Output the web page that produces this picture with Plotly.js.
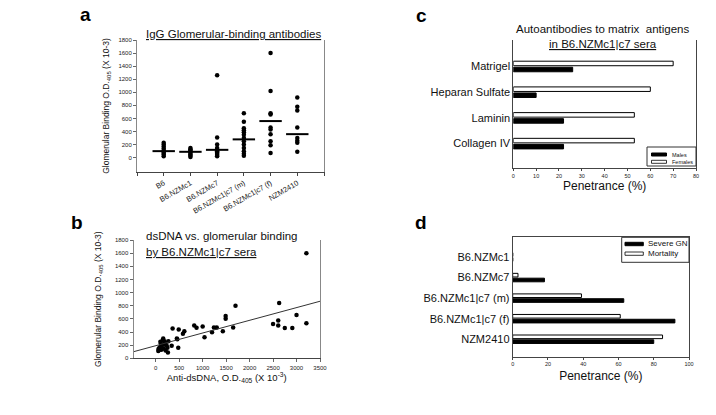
<!DOCTYPE html>
<html>
<head>
<meta charset="utf-8">
<script src="https://cdn.plot.ly/plotly-3.0.1.min.js"></script>
<style>html,body{margin:0;padding:0;background:#fff;}#chart{width:716px;height:415px;}</style>
</head>
<body>
<div id="chart"></div>
<script>
// ---------- Panel a: IgG glomerular-binding antibodies ----------
const strainCats = ['B6', 'B6.NZMc1', 'B6.NZMc7', 'B6.NZMc1|c7 (m)', 'B6.NZMc1|c7 (f)', 'NZM2410'];
const glomB6 = [230, 200, 170, 140, 110, 90, 70, 50, 20];
const glomNZMc1 = [150, 130, 110, 90, 70, 50, 30, 10];
const glomNZMc7 = [1260, 310, 200, 150, 120, 100, 80, 60, 40, 20];
const glomC1C7m = [680, 550, 450, 420, 390, 350, 300, 250, 200, 150, 100, 60, 30];
const glomC1C7f = [1600, 1020, 680, 660, 460, 430, 360, 250, 190, 70];
const glomNZM2410 = [920, 780, 720, 460, 300, 260, 230, 90];
const glomMeans = [100, 90, 120, 280, 560, 360];
const glomTicks = [0, 200, 400, 600, 800, 1000, 1200, 1400, 1600, 1800];

// ---------- Panel b: anti-dsDNA vs glomerular binding ----------
const dsDNA = [55, 60, 70, 80, 90, 100, 110, 120, 130, 150, 160, 170, 180, 190, 200, 210, 230, 250, 260, 270,
  340, 360, 450, 460, 480, 490, 580, 610, 820, 870, 1000, 1040, 1200, 1240, 1300, 1430, 1490, 1490, 1650, 1700,
  2500, 2610, 2610, 2630, 2750, 2910, 3000, 3210, 3210];
const glomBinding = [110, 140, 125, 160, 170, 250, 230, 130, 200, 280, 300, 150, 210, 260, 220, 120, 200, 160, 90, 260,
  190, 455, 300, 290, 160, 440, 375, 410, 500, 465, 485, 320, 395, 470, 470, 410, 600, 645, 470, 800,
  520, 575, 500, 840, 460, 460, 660, 1600, 535];

// ---------- Panel c: autoantibodies to matrix antigens ----------
const antigens = ['Matrigel', 'Heparan Sulfate', 'Laminin', 'Collagen IV'];
const malesPct = [26, 10, 22, 22];
const femalesPct = [70, 60, 53, 53];

// ---------- Panel d: severe GN and mortality ----------
const strainsD = ['B6.NZMc1', 'B6.NZMc7', 'B6.NZMc1|c7 (m)', 'B6.NZMc1|c7 (f)', 'NZM2410'];
const severeGN = [0, 18, 63, 92, 80];
const mortality = [0, 3, 39, 61, 85];

// ---------- helpers ----------
const W = 716, H = 415;
const F = 'Liberation Sans, Arial, Helvetica, sans-serif';
const px = x => x / W;
const py = y => (H - y) / H;
const TXT = '#111';

const traces = [];
const groups = [glomB6, glomNZMc1, glomNZMc7, glomC1C7m, glomC1C7f, glomNZM2410];
groups.forEach((vals, i) => {
  traces.push({
    type: 'scatter', mode: 'markers', xaxis: 'x', yaxis: 'y',
    x: vals.map(() => i), y: vals, name: strainCats[i],
    marker: {color: '#000', size: 4.5}
  });
});
traces.push({
  type: 'scatter', mode: 'markers', xaxis: 'x', yaxis: 'y',
  x: glomMeans.map((_, i) => i), y: glomMeans, name: 'mean',
  marker: {symbol: 'line-ew', size: 16, line: {color: '#000', width: 2}}
});

// panel b scatter + least-squares regression line
traces.push({
  type: 'scatter', mode: 'markers', xaxis: 'x2', yaxis: 'y2',
  x: dsDNA, y: glomBinding, name: 'sera', marker: {color: '#000', size: 4.5}
});
(function () {
  const n = dsDNA.length;
  const mx = dsDNA.reduce((a, b) => a + b, 0) / n;
  const my = glomBinding.reduce((a, b) => a + b, 0) / n;
  let sxy = 0, sxx = 0;
  for (let i = 0; i < n; i++) { sxy += (dsDNA[i] - mx) * (glomBinding[i] - my); sxx += (dsDNA[i] - mx) ** 2; }
  const slope = sxy / sxx, icpt = my - slope * mx;
  const xs = [-473, 3500];
  traces.push({
    type: 'scatter', mode: 'lines', xaxis: 'x2', yaxis: 'y2',
    x: xs, y: xs.map(v => icpt + slope * v), name: 'fit', line: {color: '#333', width: 1}
  });
})();

// panel c bars
traces.push({
  type: 'bar', orientation: 'h', xaxis: 'x3', yaxis: 'y3', name: 'Males',
  y: antigens, x: malesPct, marker: {color: '#000', line: {color: '#000', width: 1}}
});
traces.push({
  type: 'bar', orientation: 'h', xaxis: 'x3', yaxis: 'y3', name: 'Females',
  y: antigens, x: femalesPct, marker: {color: '#fff', line: {color: '#000', width: 1}}
});
// panel d bars
traces.push({
  type: 'bar', orientation: 'h', xaxis: 'x4', yaxis: 'y4', name: 'Severe GN',
  y: strainsD, x: severeGN, marker: {color: '#000', line: {color: '#000', width: 1}}
});
traces.push({
  type: 'bar', orientation: 'h', xaxis: 'x4', yaxis: 'y4', name: 'Mortality',
  y: strainsD, x: mortality, marker: {color: '#fff', line: {color: '#000', width: 1}}
});

const tickFont = {family: F, size: 6, color: '#222'};
const layout = {
  width: W, height: H, margin: {l: 0, r: 0, t: 0, b: 0},
  paper_bgcolor: '#fff', plot_bgcolor: '#fff', showlegend: false,
  font: {family: F, color: TXT},
  barmode: 'group', bargap: 0.53, bargroupgap: 0.25,
  xaxis: {
    domain: [px(137), px(324)], anchor: 'y', range: [-1, 6],
    tickvals: strainCats.map((_, i) => i), ticktext: strainCats,
    tickangle: -30, tickfont: {family: F, size: 7.5, color: '#222'},
    ticks: 'outside', ticklen: 3, tickcolor: '#444',
    minor: {tickmode: 'linear', tick0: -1, dtick: 1, ticks: 'outside', ticklen: 3, tickcolor: '#444', showgrid: false},
    showline: true, linecolor: '#444', linewidth: 1,
    showgrid: false, zeroline: false
  },
  yaxis: {
    domain: [py(172), py(40)], anchor: 'x', range: [-219, 1800],
    tickvals: glomTicks,
    tickfont: tickFont, ticks: 'outside', ticklen: 3, tickcolor: '#666',
    showline: true, linecolor: '#888', linewidth: 1, mirror: true,
    showgrid: false, zeroline: false,
    title: {text: 'Glomerular Binding O.D.<sub>405</sub> (X 10-3)', standoff: 7, font: {size: 8.5, family: F, color: TXT}}
  },
  xaxis2: {
    domain: [px(133.5), px(320)], anchor: 'y2', range: [-473, 3500], dtick: 500,
    tickfont: tickFont, ticks: 'outside', ticklen: 3, tickcolor: '#666',
    showline: true, linecolor: '#444', showgrid: false, zeroline: false,
    title: {text: 'Anti-dsDNA, O.D.<sub>405</sub> (X 10<sup>-3</sup>)', standoff: 4, font: {size: 9.5, family: F, color: TXT}}
  },
  yaxis2: {
    domain: [py(358.3), py(240)], anchor: 'x2', range: [0, 1800], dtick: 200,
    tickfont: tickFont, ticks: 'outside', ticklen: 3, tickcolor: '#666',
    showline: true, linecolor: '#888', mirror: true, showgrid: false, zeroline: false,
    title: {text: 'Glomerular Binding O.D.<sub>405</sub> (X 10-3)', standoff: 11, font: {size: 8.5, family: F, color: TXT}}
  },
  xaxis3: {
    domain: [px(513.3), px(696)], anchor: 'y3', range: [0, 80], dtick: 10,
    tickfont: {family: F, size: 5.5, color: '#222'}, ticks: 'outside', ticklen: 2, tickcolor: '#444',
    showline: true, linecolor: '#444', showgrid: false, zeroline: false,
    title: {text: 'Penetrance (%)', standoff: 2, font: {size: 12, family: F, color: TXT}}
  },
  yaxis3: {
    domain: [py(168.3), py(40)], anchor: 'x3', range: [-0.96, 4.03],
    categoryorder: 'array', categoryarray: antigens.slice().reverse(),
    tickfont: {family: F, size: 11, color: TXT}, ticks: '', showline: true, linecolor: '#444',
    mirror: true, showgrid: false, zeroline: false
  },
  xaxis4: {
    domain: [px(512.7), px(689)], anchor: 'y4', range: [0, 100], dtick: 20,
    tickfont: {family: F, size: 5.5, color: '#222'}, ticks: 'outside', ticklen: 2, tickcolor: '#444',
    showline: true, linecolor: '#444', mirror: true, showgrid: false, zeroline: false,
    title: {text: 'Penetrance (%)', standoff: 5, font: {size: 12, family: F, color: TXT}}
  },
  yaxis4: {
    domain: [py(356.7), py(237.3)], anchor: 'x4', range: [-0.85, 4.96],
    categoryorder: 'array', categoryarray: strainsD.slice().reverse(),
    tickfont: {family: F, size: 11, color: TXT}, ticks: '', showline: true, linecolor: '#444',
    mirror: true, showgrid: false, zeroline: false
  },
  shapes: [
    // legend c
    {type: 'rect', xref: 'paper', yref: 'paper', x0: px(647), x1: px(696), y0: py(166), y1: py(147), line: {color: '#333', width: 1}, fillcolor: '#fff'},
    {type: 'rect', xref: 'paper', yref: 'paper', x0: px(651.5), x1: px(666.5), y0: py(156), y1: py(153), line: {color: '#000', width: 1}, fillcolor: '#000'},
    {type: 'rect', xref: 'paper', yref: 'paper', x0: px(651.5), x1: px(666.5), y0: py(163.3), y1: py(160.3), line: {color: '#000', width: 0.8}, fillcolor: '#fff'},
    // legend d
    {type: 'rect', xref: 'paper', yref: 'paper', x0: px(621.7), x1: px(689), y0: py(262.3), y1: py(237.3), line: {color: '#333', width: 1}, fillcolor: '#fff'},
    {type: 'rect', xref: 'paper', yref: 'paper', x0: px(625), x1: px(643.3), y0: py(245.7), y1: py(242.3), line: {color: '#000', width: 1}, fillcolor: '#000'},
    {type: 'rect', xref: 'paper', yref: 'paper', x0: px(625), x1: px(643.3), y0: py(255.3), y1: py(252), line: {color: '#000', width: 0.8}, fillcolor: '#fff'}
  ],
  annotations: [
    // panel letters
    {text: '<b>a</b>', x: px(85), y: py(14), font: {size: 19, family: F, color: '#000'}},
    {text: '<b>b</b>', x: px(77), y: py(222), font: {size: 19, family: F, color: '#000'}},
    {text: '<b>c</b>', x: px(421), y: py(15), font: {size: 19, family: F, color: '#000'}},
    {text: '<b>d</b>', x: px(421), y: py(222), font: {size: 19, family: F, color: '#000'}},
    // panel titles
    {text: '<u>IgG Glomerular-binding antibodies</u>', x: px(233), y: py(34), font: {size: 11.5, family: F, color: TXT}},
    {text: 'dsDNA vs. glomerular binding', x: px(144), y: py(236), xanchor: 'left', font: {size: 11.5, family: F, color: TXT}},
    {text: '<u>by B6.NZMc1|c7 sera</u>', x: px(144), y: py(252), xanchor: 'left', font: {size: 11.5, family: F, color: TXT}},
    {text: 'Autoantibodies to matrix  antigens', x: px(602.5), y: py(29), font: {size: 11.5, family: F, color: TXT}},
    {text: '<u>in B6.NZMc1|c7 sera</u>', x: px(603), y: py(44), font: {size: 11.5, family: F, color: TXT}},
    // legends
    {text: 'Males', x: px(669.5), y: py(154.5), xanchor: 'left', font: {size: 5.5, family: F, color: TXT}},
    {text: 'Females', x: px(669.5), y: py(161.8), xanchor: 'left', font: {size: 5.5, family: F, color: TXT}},
    {text: 'Severe GN', x: px(646), y: py(244), xanchor: 'left', font: {size: 8, family: F, color: TXT}},
    {text: 'Mortality', x: px(646), y: py(253.7), xanchor: 'left', font: {size: 8, family: F, color: TXT}}
  ].map(a => Object.assign({xref: 'paper', yref: 'paper', showarrow: false, xanchor: 'center', yanchor: 'middle'}, a))
};

Plotly.newPlot('chart', traces, layout, {displayModeBar: false, staticPlot: true});
</script>
</body>
</html>
